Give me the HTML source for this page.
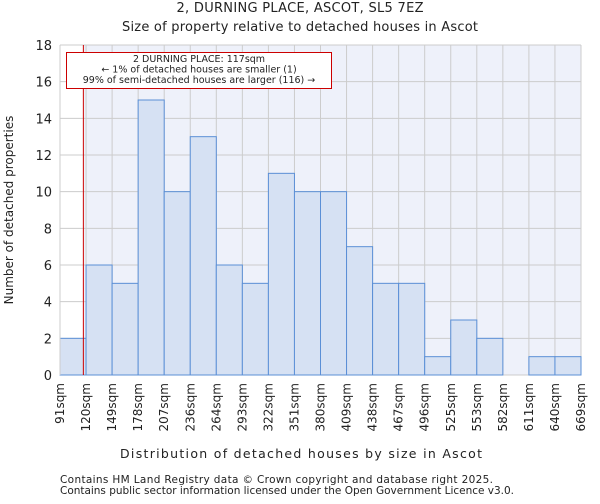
<!DOCTYPE html>
<html><head><meta charset="utf-8"><style>
body{margin:0;background:#fff;font-family:"DejaVu Sans","Liberation Sans",sans-serif}
svg text{font-family:"DejaVu Sans","Liberation Sans",sans-serif;fill:#222}
</style></head><body>
<svg id="c" width="600" height="500">
<text x="300" y="12" text-anchor="middle" font-size="13" textLength="247">2, DURNING PLACE, ASCOT, SL5 7EZ</text>
<text x="300" y="31" text-anchor="middle" font-size="13" textLength="356">Size of property relative to detached houses in Ascot</text>
<g id="plot"></g>
<text x="301" y="458" text-anchor="middle" font-size="12.5" textLength="362">Distribution of detached houses by size in Ascot</text>
<text transform="translate(13,210) rotate(-90)" text-anchor="middle" font-size="12">Number of detached properties</text>
<text x="60" y="483" font-size="10.5" textLength="433">Contains HM Land Registry data © Crown copyright and database right 2025.</text>
<text x="60" y="494" font-size="10.5" textLength="454">Contains public sector information licensed under the Open Government Licence v3.0.</text>
</svg>
<script>
const binLabels=["91sqm","120sqm","149sqm","178sqm","207sqm","236sqm","264sqm","293sqm","322sqm","351sqm","380sqm","409sqm","438sqm","467sqm","496sqm","525sqm","553sqm","582sqm","611sqm","640sqm","669sqm"];
const counts=[2,6,5,15,10,13,6,5,11,10,10,7,5,5,1,3,2,0,1,1];
const yTicks=[0,2,4,6,8,10,12,14,16,18];
const markerValue=117;
const binStart=91, binWidthSqm=29;
const L=60,R=581,T=45,B=375,yMax=18;
const NS="http://www.w3.org/2000/svg";
const g=document.getElementById('plot');
const bw=(R-L)/counts.length;
const x=i=>L+i*bw;
const y=v=>B-(v/yMax)*(B-T);
function mk(t,a){const e=document.createElementNS(NS,t);for(const k in a)e.setAttribute(k,a[k]);g.appendChild(e);return e;}
const mx=L+(markerValue-binStart)/binWidthSqm*bw;
let bg=mk('rect',{x:mx,y:T,width:R-mx,height:B-T,fill:'#eef1fa'});


yTicks.forEach(t=>{
 let l=mk('line',{x1:L,x2:R,y1:y(t),y2:y(t),stroke:'#cccccc'});
 
 
 let tx=mk('text',{x:L-8,y:y(t)+5,'text-anchor':'end','font-size':'13'});tx.textContent=t;
 
 
});
binLabels.forEach((s,i)=>{
 let l=mk('line',{x1:x(i),x2:x(i),y1:T,y2:B,stroke:'#cccccc'});
 
 
 let tx=mk('text',{transform:`translate(${x(i)+4},${B+8}) rotate(-90)`,'text-anchor':'end','font-size':'12'});tx.textContent=s;
 
 
});
counts.forEach((v,i)=>{
 if(v<=0)return;
 let r=mk('rect',{x:x(i),y:y(v),width:bw,height:B-y(v),fill:'#d6e1f3',stroke:'#5b8fd6','stroke-width':1});
 
 
});
let ml=mk('line',{x1:mx,x2:mx,y1:T,y2:B,stroke:'#cc0000','stroke-width':1});


let ab=mk('rect',{x:66.5,y:52.5,width:265,height:36,fill:'#fff',stroke:'#cc0000'});


["2 DURNING PLACE: 117sqm","← 1% of detached houses are smaller (1)","99% of semi-detached houses are larger (116) →"].forEach((s,i)=>{
 let t=mk('text',{x:199,y:62+i*10.5,'text-anchor':'middle','font-size':'9.5'});t.textContent=s;
 
 
});
let ax=mk('line',{x1:L,x2:L,y1:T,y2:B,stroke:'#cccccc'});


</script>
</body></html>
